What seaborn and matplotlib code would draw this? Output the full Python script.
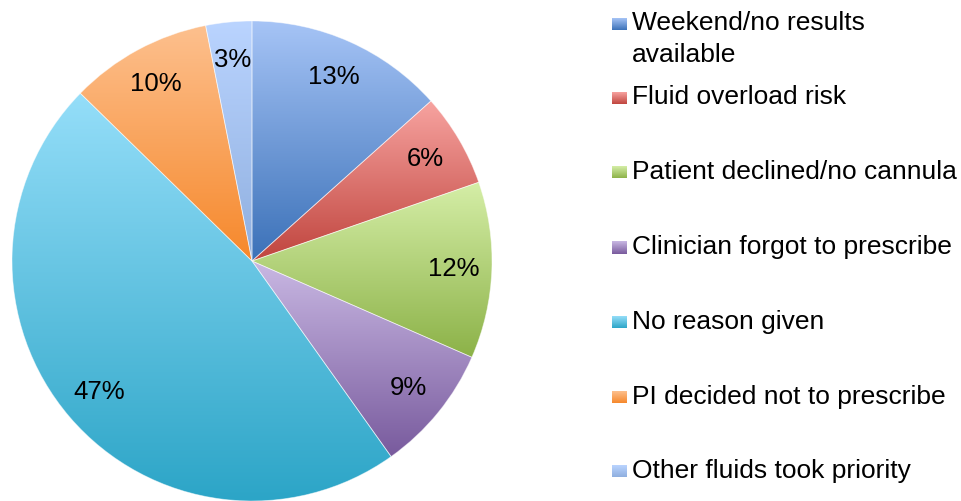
import numpy as np
import matplotlib
matplotlib.use("Agg")
import matplotlib.pyplot as plt
import seaborn as sns
from matplotlib.colors import LinearSegmentedColormap, to_rgb

# ---- data ----
categories = [
    "Weekend/no results available",
    "Fluid overload risk",
    "Patient declined/no cannula",
    "Clinician forgot to prescribe",
    "No reason given",
    "PI decided not to prescribe",
    "Other fluids took priority",
]
legend_lines = [
    ["Weekend/no results", "available"],
    ["Fluid overload risk"],
    ["Patient declined/no cannula"],
    ["Clinician forgot to prescribe"],
    ["No reason given"],
    ["PI decided not to prescribe"],
    ["Other fluids took priority"],
]
values = [13.4, 6.3, 11.9, 8.6, 47.2, 9.6, 3.1]

top_colors = ["#A6C4F6", "#F7A3A0", "#D5EEA7", "#C9B8E3", "#95DEF9", "#FDC08E", "#BAD4FF"]
bottom_colors = ["#3B71B8", "#C0453E", "#8CB248", "#785A9D", "#2CA5C7", "#F6882B", "#8FAFDF"]

# ---- style ----
sns.set_theme(style="white")
plt.rcParams["font.family"] = ["Liberation Sans", "DejaVu Sans"]

W, H = 961, 501
fig = plt.figure(figsize=(W / 100, H / 100), dpi=100)
fig.patch.set_facecolor("white")

R = 240
cx, cy = 252, 261
ax = fig.add_axes([(cx - R) / W, (H - cy - R) / H, 2 * R / W, 2 * R / H])

mid_colors = [tuple((np.array(to_rgb(a)) + np.array(to_rgb(b))) / 2)
              for a, b in zip(top_colors, bottom_colors)]

wedges, texts, autotexts = ax.pie(
    values,
    startangle=90,
    counterclock=False,
    colors=mid_colors,
    autopct="%.0f%%",
    pctdistance=0.84,
    wedgeprops=dict(linewidth=0),
    textprops=dict(fontsize=18.5, color="black"),
)

grad = np.linspace(0, 1, 256).reshape(-1, 1)
for w, top, bot in zip(wedges, top_colors, bottom_colors):
    bb = w.get_path().get_extents()
    cmap = LinearSegmentedColormap.from_list("g", [bot, top])
    im = ax.imshow(grad, cmap=cmap, extent=(bb.x0, bb.x1, bb.y0, bb.y1),
                   origin="lower", aspect="auto", zorder=1, interpolation="bilinear")
    im.set_clip_path(w)
    w.set_facecolor("none")
    w.set_edgecolor((1, 1, 1, 0.5))
    w.set_linewidth(0.6)
    w.set_zorder(2)

for t in autotexts:
    t.set_zorder(4)

ax.set_xlim(-1, 1)
ax.set_ylim(-1, 1)
ax.set_aspect("auto")
ax.axis("off")

# ---- legend (drawn in pixel coordinates) ----
lax = fig.add_axes([0, 0, 1, 1], zorder=-1)
lax.patch.set_alpha(0)
lax.axis("off")

baselines = [30, 104, 179, 254, 329, 404, 478]
line_gap = 32
for lines, b, top, bot in zip(legend_lines, baselines, top_colors, bottom_colors):
    cmap = LinearSegmentedColormap.from_list("g", [bot, top])
    lax.imshow(grad, cmap=cmap, extent=(612, 627, b - 0.5, b - 12.5),
               origin="lower", aspect="auto", interpolation="bilinear")
    for i, s in enumerate(lines):
        lax.text(632, b + i * line_gap, s, fontsize=19, color="black",
                 va="baseline", ha="left")

lax.set_xlim(0, W)
lax.set_ylim(H, 0)

fig.savefig("out.png", dpi=100, facecolor="white")
